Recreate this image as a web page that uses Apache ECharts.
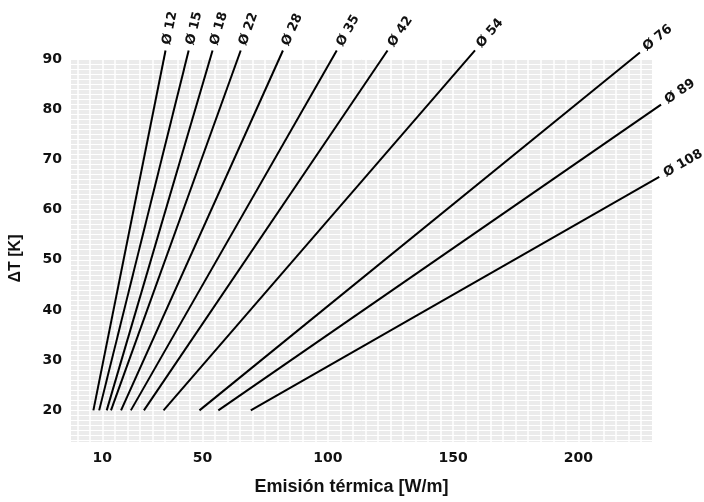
<!DOCTYPE html>
<html>
<head>
<meta charset="utf-8">
<script src="https://cdn.jsdelivr.net/npm/echarts@6/dist/echarts.min.js"></script>
<style>
  html, body { margin: 0; padding: 0; background: #fff; }
  #chart { width: 704px; height: 502px; }
</style>
</head>
<body>
<div id="chart"></div>
<script>
// diámetros de tubería
const diameters = ['Ø 12', 'Ø 15', 'Ø 18', 'Ø 22', 'Ø 28', 'Ø 35', 'Ø 42', 'Ø 54', 'Ø 76', 'Ø 89', 'Ø 108'];
// emisión [W/m] a ΔT = 20 K (inicio de cada recta)
const startEmission = [7.2, 9.5, 12.5, 14.2, 18.2, 22.1, 27.3, 35.1, 49.4, 56.9, 69.8];
const startDeltaT = 20;
// final de cada recta
const endEmission = [35.9, 45.1, 54.6, 65.8, 82.6, 104.0, 124.2, 159.0, 224.6, 233.0, 232.3];
const endDeltaT = [91.7, 91.7, 91.7, 91.7, 91.7, 91.7, 91.7, 91.7, 91.3, 80.9, 66.5];

// etiquetas de los ejes
const xLabels = [10, 50, 100, 150, 200];
const yLabels = [20, 30, 40, 50, 60, 70, 80, 90];

// rejilla blanca de fondo
const xGrid = [];
for (let v = 0; v <= 225; v += 5) xGrid.push(v);
const yGrid = [];
for (let v = 14; v <= 90; v += 1) yGrid.push(v);

const chart = echarts.init(document.getElementById('chart'));

const tickFont = {
    fontFamily: 'DejaVu Sans',
    fontWeight: 'bold',
    fontSize: 14,
    color: '#111'
};

function endLabel(name, angle) {
    return {
        show: true,
        formatter: name,
        position: 'right',
        distance: 0,
        align: 'left',
        verticalAlign: 'middle',
        rotate: angle,
        offset: [6, 0],
        fontFamily: 'DejaVu Sans',
        fontWeight: 'bold',
        fontSize: 13,
        color: '#111'
    };
}

function lineData(i, angle) {
    return [
        [startEmission[i], startDeltaT],
        { value: [endEmission[i], endDeltaT[i]], label: endLabel(diameters[i], angle) }
    ];
}

const series = diameters.map(function (name, i) {
    return {
        name: name,
        type: 'line',
        xAxisIndex: 1,
        yAxisIndex: 1,
        clip: false,
        symbol: 'circle',
        symbolSize: 0,
        showSymbol: true,
        lineStyle: { color: '#000', width: 2 },
        itemStyle: { color: '#000' },
        emphasis: { disabled: true },
        data: lineData(i, 0)
    };
});

chart.setOption({
    animation: false,
    backgroundColor: '#fff',
    grid: [
        // zona gris con la rejilla
        {
            left: 69, right: 52, top: 59, bottom: 60,
            show: true,
            backgroundColor: '#ebebeb',
            borderWidth: 0
        },
        // misma escala, algo más amplia, para las rectas que salen del fondo
        { left: 69, right: 12.8, top: 33.9, bottom: 60 }
    ],
    xAxis: [
        {
            type: 'value',
            gridIndex: 0,
            min: -2.5,
            max: 229.4,
            name: 'Emisión térmica [W/m]',
            nameLocation: 'middle',
            nameGap: 36,
            nameTextStyle: {
                fontFamily: 'Liberation Sans',
                fontWeight: 'bold',
                fontSize: 18,
                color: '#111',
                padding: [0, 20, 0, 0]
            },
            axisLine: { show: false },
            axisTick: { show: false, customValues: xGrid },
            axisLabel: Object.assign({ customValues: xLabels, margin: 9 }, tickFont),
            splitLine: { show: true, lineStyle: { color: '#fff', width: 1.5 } }
        },
        {
            type: 'value',
            gridIndex: 1,
            min: -2.5,
            max: 245,
            show: false
        }
    ],
    yAxis: [
        {
            type: 'value',
            gridIndex: 0,
            min: 13.7,
            max: 90,
            name: 'ΔT [K]',
            nameLocation: 'middle',
            nameGap: 47,
            nameTextStyle: {
                fontFamily: 'Liberation Sans',
                fontWeight: 'bold',
                fontSize: 16,
                color: '#111',
                padding: [0, 16, 0, 0]
            },
            axisLine: { show: false },
            axisTick: { show: false, customValues: yGrid },
            axisLabel: Object.assign({ customValues: yLabels, margin: 9 }, tickFont),
            splitLine: { show: true, lineStyle: { color: '#fff', width: 1 } }
        },
        {
            type: 'value',
            gridIndex: 1,
            min: 13.7,
            max: 95,
            show: false
        }
    ],
    series: series
});

// girar cada etiqueta según la pendiente de su recta en pantalla
const labelUpdate = diameters.map(function (name, i) {
    const p1 = chart.convertToPixel({ seriesIndex: i }, [startEmission[i], startDeltaT]);
    const p2 = chart.convertToPixel({ seriesIndex: i }, [endEmission[i], endDeltaT[i]]);
    const angle = Math.atan2(p1[1] - p2[1], p2[0] - p1[0]) * 180 / Math.PI;
    return { data: lineData(i, angle) };
});
chart.setOption({ series: labelUpdate });
</script>
</body>
</html>
